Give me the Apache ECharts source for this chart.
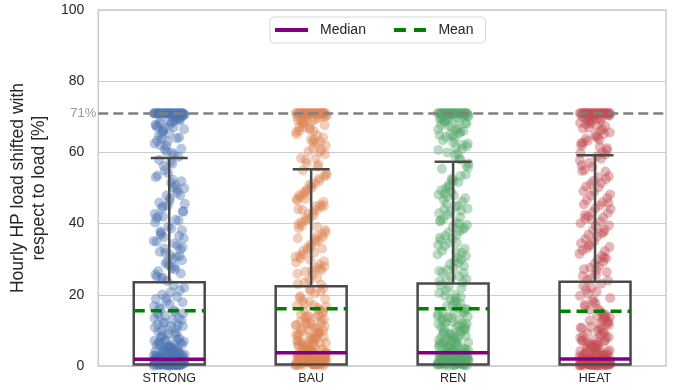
<!DOCTYPE html>
<html>
<head>
<meta charset="utf-8">
<script src="https://cdn.jsdelivr.net/npm/echarts@6/dist/echarts.min.js"></script>
<style>html,body{margin:0;padding:0;background:#fff}#chart{width:678px;height:390px}</style>
</head>
<body>
<div id="chart"></div>
<script>
const categories = ['STRONG', 'BAU', 'REN', 'HEAT'];
const colors = ['#4C72B0', '#DD8452', '#55A868', '#C44E52'];

// hourly shares, per scenario
const strongValues = [
  0.1,0.3,0.5,0.2,0.8,1.1,0.4,0.6,1.5,0.9,0.2,1.3,0.7,1.8,0.3,0.5,1.0,0.1,1.6,0.8,0.4,1.2,0.6,1.9,0.2,0.9,1.4,0.3,0.7,1.1,
  0.5,1.7,0.2,0.8,1.3,0.4,0.6,1.0,0.1,1.5,0.3,0.9,1.2,0.7,1.8,0.5,0.2,1.4,0.6,1.1,0.4,1.6,0.8,0.3,1.0,0.7,1.9,0.5,1.2,0.2,
  2.3,3.1,4.5,2.8,5.2,6.4,3.7,2.5,7.1,4.0,8.3,3.3,5.8,2.9,9.2,4.8,6.9,3.5,2.2,7.7,5.5,4.2,8.8,3.9,6.1,2.6,9.6,5.0,7.4,3.0,4.6,8.1,6.6,2.4,5.9,
  10.5,12.3,14.8,11.2,16.5,13.4,18.2,10.9,15.6,20.1,12.9,17.3,11.7,19.4,14.1,22.0,13.0,16.0,21.3,10.2,18.8,15.2,12.1,17.9,20.7,14.4,11.4,19.0,16.8,22.6,
  24.5,26.0,28.3,25.1,30.6,33.0,35.8,27.4,32.1,36.5,29.2,40.3,34.4,44.8,38.1,47.2,42.0,49.5,31.7,45.6,52.3,36.9,48.0,54.1,41.5,50.8,56.2,43.3,51.5,57.9,
  58.7,60.2,62.5,59.4,63.8,61.0,65.3,67.1,64.0,60.9,66.5,68.4,62.0,69.3,63.1,67.8,69.9,65.9,
  71,71,71,71,71,71,71,71,71,71,71,71
];
const strongMore = [
  71,71,71,71,71,71,71,71,71,71,71,71,71,71,
  70.6,70.2,69.7,68.9,70.8,67.5,69.1,66.2,70.4,68.0,64.7,69.5,61.8,70.9,67.0,65.5,70.1,68.6,63.3,69.8,66.9,70.5,59.9,68.3,64.2,
  23.9,25.7,27.9,24.8,29.7,31.2,26.6,33.8,28.8,35.1,30.1,37.4,32.7,39.2,34.9,41.1,36.2,43.5,38.6,45.9,
  40.8,47.9,42.7,50.1,44.3,51.9,46.4,53.5,48.7,55.0,49.9,56.8,37.8,30.9,45.1,53.0,27.1,41.9,33.3,57.3,
  0.3,0.7,1.2,0.5,1.9,2.6,0.9,3.4,1.4,4.3,0.2,2.1,5.1,1.0,3.8,0.6,2.9,6.2,1.6,0.4,4.9,2.3,7.5,
  1.1,3.2,0.8,5.6,1.8,8.9,0.3,2.7,4.1,11.2,1.3,6.8,0.6,3.6,13.5,2.0,9.8,0.9,5.3,14.6,1.5,7.2
];
const bauValues = [
  0.2,0.6,1.1,0.4,1.8,2.3,0.9,3.0,1.5,0.3,2.7,1.2,3.5,0.7,2.0,1.6,0.1,3.2,2.5,0.8,1.4,3.6,0.5,2.9,1.9,1.0,3.3,0.4,2.2,1.7,
  0.6,3.1,2.6,1.3,0.2,2.4,3.4,0.9,1.8,2.8,0.3,1.1,3.6,2.1,0.7,1.5,3.0,2.5,0.5,1.2,2.0,3.5,1.6,0.8,2.9,
  4.0,5.3,6.8,4.6,8.2,7.1,9.5,5.9,11.0,4.3,12.6,6.2,10.1,8.8,13.7,5.0,15.2,7.6,9.0,14.3,11.8,6.5,16.9,4.8,12.0,18.1,8.5,10.6,17.4,13.1,
  7.3,19.6,15.8,5.6,11.3,20.4,9.8,14.9,21.2,6.0,16.3,12.4,18.8,7.9,10.3,20.9,13.9,17.0,8.1,15.5,21.8,11.5,19.2,9.3,14.0,16.6,6.9,18.4,12.8,21.5,
  23.0,24.8,26.5,28.0,25.6,30.2,27.3,32.6,29.1,34.8,31.4,36.2,33.5,38.7,35.1,40.9,37.6,42.3,39.4,44.6,41.2,46.5,43.8,48.3,45.0,50.1,47.4,52.0,49.2,53.6,51.3,54.9,33.0,29.8,44.0,
  56.0,57.8,59.5,61.2,58.4,63.0,60.3,65.1,62.4,67.0,64.2,68.5,66.1,69.6,56.9,70.2,63.7,68.0,60.8,66.8,69.1,70.5,
  71,71,71,71,71,71,71,71,71,71,71,71
];
const bauMore = [
  71,71,71,71,71,71,71,71,71,71,71,71,71,71,
  70.7,70.3,69.2,68.7,70.9,66.4,69.9,64.8,70.1,67.6,62.9,69.4,60.1,70.5,65.7,58.3,68.2,70.0,63.6,67.1,56.6,69.0,61.9,66.0,70.4,
  22.8,24.1,25.9,27.6,23.5,29.4,26.8,31.0,28.5,33.2,30.7,35.6,32.3,37.0,34.2,39.8,36.5,41.6,38.2,43.1,
  40.4,45.2,42.8,47.0,44.9,48.9,46.1,50.7,48.0,52.6,49.6,54.2,31.9,43.9,27.0,51.0,35.9,39.1,46.9,53.3,
  0.4,0.9,1.5,2.2,0.6,2.9,3.6,1.2,4.4,0.3,1.9,5.3,2.6,0.8,6.1,3.3,1.4,7.0,0.5,2.4,8.2,3.9,1.0,
  9.4,4.8,1.7,10.7,0.2,3.0,12.1,5.7,1.3,13.4,2.0,6.4,14.5,0.7,3.5,11.6,7.8,2.8,9.9,4.5,1.6,8.7
];
const renValues = [
  0.3,0.8,1.4,0.5,2.1,2.9,1.0,3.4,0.2,1.7,2.5,0.6,3.1,1.2,0.9,2.3,3.6,0.4,1.9,2.7,0.1,1.5,3.2,0.7,2.0,1.1,3.5,0.5,2.6,1.8,
  0.3,3.0,1.3,2.4,0.8,3.3,1.6,0.2,2.8,1.0,3.6,0.6,2.2,1.4,3.1,0.4,1.9,2.9,0.9,3.4,1.2,2.5,0.7,1.7,3.0,
  4.2,5.6,7.0,4.9,8.6,6.3,10.0,5.2,11.8,7.5,13.3,4.5,9.1,14.6,6.7,12.2,16.0,8.0,10.8,17.5,5.9,13.8,19.0,9.6,15.3,7.2,20.5,11.4,16.8,4.7,
  18.2,12.7,21.9,8.9,14.1,6.1,19.7,10.4,17.1,22.7,13.0,7.8,15.9,20.0,9.3,12.0,18.7,5.4,16.4,21.3,11.1,14.9,8.3,19.4,22.2,6.6,17.8,10.7,15.0,13.5,
  23.8,25.2,27.0,24.4,29.5,26.3,31.8,28.6,34.0,30.4,36.6,32.9,39.0,35.3,41.8,37.5,44.2,40.1,46.7,38.4,49.0,42.9,51.6,45.5,53.8,47.9,55.4,43.6,50.3,56.9,34.7,48.5,28.1,52.7,40.6,
  58.2,60.0,61.7,59.1,63.4,62.1,65.0,60.7,66.6,64.3,68.2,62.8,69.5,65.8,67.4,70.1,61.3,69.0,66.0,70.6,64.9,68.8,
  71,71,71,71,71,71,71,71,71,71,71,71
];
const renMore = [
  71,71,71,71,71,71,71,71,71,71,71,71,71,71,
  70.8,70.4,69.6,68.5,70.2,67.2,69.3,65.4,70.7,68.1,63.8,69.9,61.0,70.0,66.5,59.6,68.9,70.5,64.6,67.7,58.0,69.4,62.5,66.3,70.3,
  23.5,25.0,26.7,28.9,24.2,30.8,27.5,32.4,29.9,34.6,31.3,36.9,33.7,38.8,35.8,40.9,37.9,42.5,39.6,44.8,
  41.4,46.2,43.3,48.1,45.0,50.0,47.1,51.9,49.4,53.4,50.8,55.8,32.0,44.1,26.1,52.2,36.0,40.0,47.6,56.3,
  0.2,0.8,1.6,2.4,0.5,3.1,3.7,1.1,4.6,0.4,2.0,5.5,2.8,0.9,6.4,3.4,1.5,7.3,0.6,2.6,8.5,4.1,1.2,
  9.7,5.0,1.8,10.9,0.3,3.2,12.4,5.9,1.4,13.6,2.2,6.7,14.8,0.7,3.8,11.9,8.0,2.9,10.2,4.7,1.7,9.0
];
const heatValues = [
  0.1,0.4,0.9,0.2,1.3,0.6,1.7,0.3,1.1,0.8,1.9,0.5,1.4,0.2,1.0,0.7,1.6,0.4,1.2,0.1,1.8,0.6,0.9,1.5,0.3,1.1,0.7,1.9,0.5,1.3,
  0.2,0.8,1.6,0.4,1.0,1.4,0.6,1.8,0.3,1.2,0.9,1.7,0.5,0.1,1.5,0.8,1.1,0.3,1.9,0.6,1.3,0.4,1.0,1.6,0.2,0.7,1.4,0.9,1.8,0.5,
  2.2,3.0,4.1,2.7,5.5,3.6,6.8,2.4,7.9,4.7,9.1,3.3,5.9,8.4,2.9,6.2,4.4,9.8,3.8,7.2,5.1,2.5,8.8,6.6,4.0,7.6,3.1,9.4,5.7,2.8,6.9,4.9,8.1,3.5,7.0,
  10.3,12.8,11.5,14.2,16.7,13.1,18.5,10.8,15.4,20.3,12.2,17.6,22.4,14.7,11.0,19.1,16.0,21.5,13.6,18.0,10.6,23.1,15.8,12.5,20.8,17.2,14.0,22.0,19.7,11.9,
  24.2,26.4,28.7,25.3,31.0,27.6,33.4,29.9,35.7,32.2,38.1,34.5,40.6,36.9,43.0,39.3,45.4,41.7,47.8,44.1,50.2,46.6,52.5,48.9,54.8,51.4,57.1,53.3,58.9,42.4,30.5,55.9,
  59.8,61.5,63.2,60.6,64.9,62.7,66.4,68.1,65.6,69.4,63.9,67.3,70.0,61.9,68.9,66.9,70.4,64.4,
  71,71,71,71,71,71,71,71,71,71,71,71,71,71
];
const heatMore = [
  71,71,71,71,71,71,71,71,71,71,71,71,71,71,
  70.6,70.1,69.5,68.6,70.8,67.4,69.7,65.2,70.3,68.3,63.5,69.1,61.2,70.9,66.7,60.0,68.8,70.4,64.1,67.9,59.4,69.3,62.6,66.2,70.0,
  24.0,25.6,27.2,29.3,24.7,31.5,28.1,33.0,30.2,35.0,32.5,37.2,34.1,39.5,36.4,41.4,38.3,43.2,40.1,45.1,
  42.0,47.2,44.3,49.1,46.0,51.1,48.2,53.0,50.4,54.6,52.0,56.4,58.2,33.7,45.8,26.9,55.1,37.6,41.0,57.7,
  0.2,0.6,1.1,0.4,1.5,0.8,1.9,0.3,2.4,1.0,3.1,0.5,1.3,3.8,0.7,1.7,4.6,0.1,2.1,5.4,0.9,1.2,6.3,
  0.4,2.7,7.2,1.6,0.6,8.1,3.4,1.0,9.3,0.3,4.2,10.4,1.4,11.8,5.1,0.8,12.9,2.2,13.7,6.0,1.8,14.4
];
const allValues = [
  strongValues.concat(strongMore),
  bauValues.concat(bauMore),
  renValues.concat(renMore),
  heatValues.concat(heatMore)
];

// box statistics
const q1 = [0.4, 0.4, 0.4, 0.4];
const medians = [1.9, 3.7, 3.7, 2.0];
const q3 = [23.5, 22.4, 23.2, 23.7];
const whiskerTop = [58.4, 55.3, 57.4, 59.2];
const means = [15.5, 16.1, 16.1, 15.4];
const capLevel = 71;

const font = 'Liberation Sans, Arial, sans-serif';
const boxHalf = 0.25;
const capHalf = 0.13;

// strip jitter, deterministic
const jitter = k => (((k * 0.6180339887) % 1) - 0.5) * 0.22;

const scatterSeries = allValues.map((vals, i) => ({
    type: 'scatter',
    xAxisIndex: 1,
    z: 2,
    symbolSize: 10,
    itemStyle: { color: colors[i], opacity: 0.4 },
    silent: true,
    data: vals.map((v, k) => [i + jitter(k), v])
}));

function hLine(name, values, color, dash) {
    return {
        name: name,
        type: 'custom',
        xAxisIndex: 1,
        z: 4,
        itemStyle: { color: color },
        data: values.map((v, i) => [i, v]),
        renderItem: (params, api) => {
            const i = api.value(0);
            const a = api.coord([i - boxHalf, api.value(1)]);
            const b = api.coord([i + boxHalf, api.value(1)]);
            return {
                type: 'line',
                shape: { x1: a[0], y1: a[1], x2: b[0], y2: b[1] },
                style: { stroke: color, lineWidth: 3.5, lineDash: dash }
            };
        }
    };
}

const chart = echarts.init(document.getElementById('chart'));
chart.setOption({
    animation: false,
    grid: { left: 92, right: 12, top: 10, bottom: 24, show: true, borderColor: '#cccccc', borderWidth: 1.5 },
    legend: {
        left: 270,
        top: 17,
        data: [
            { name: 'Median', icon: 'path://M0,0h33v4h-33z' },
            { name: 'Mean', icon: 'path://M0,0h12v4h-12z M20,0h12v4h-12z' }
        ],
        itemWidth: 33,
        itemHeight: 4,
        itemGap: 28,
        padding: [6, 12, 6, 5],
        borderColor: '#d6d6d6',
        borderWidth: 1,
        borderRadius: 4,
        backgroundColor: '#fff',
        textStyle: { fontSize: 14, color: '#262626', fontFamily: font, padding: [0, 0, 0, 7] }
    },
    xAxis: [
        {
            type: 'category',
            data: categories,
            boundaryGap: true,
            axisLine: { show: false },
            axisTick: { show: false },
            axisLabel: { fontSize: 12.5, color: '#262626', fontFamily: font, margin: 6 }
        },
        { type: 'value', min: -0.5, max: 3.5, show: false }
    ],
    yAxis: {
        type: 'value',
        min: 0,
        max: 100,
        interval: 20,
        name: 'Hourly HP load shifted with\nrespect to load [%]',
        nameLocation: 'middle',
        nameGap: 42,
        nameTextStyle: { fontSize: 17.5, color: '#262626', fontFamily: font, lineHeight: 21 },
        axisLine: { show: false },
        axisTick: { show: false },
        axisLabel: { fontSize: 14, color: '#262626', fontFamily: font, margin: 14 },
        splitLine: { lineStyle: { color: '#cccccc', width: 1.2 } }
    },
    series: [
        {
            type: 'line',
            xAxisIndex: 1,
            z: 1,
            data: [],
            markLine: {
                silent: true,
                symbol: 'none',
                lineStyle: { color: '#808080', type: [10, 5], width: 2.5 },
                label: { position: 'start', formatter: capLevel + '%', color: '#999999', fontSize: 13, fontFamily: font, distance: 2 },
                data: [{ yAxis: capLevel }]
            }
        },
        ...scatterSeries,
        {
            type: 'custom',
            xAxisIndex: 1,
            z: 3,
            silent: true,
            data: categories.map((c, i) => [i, q1[i], q3[i], whiskerTop[i]]),
            renderItem: (params, api) => {
                const i = api.value(0);
                const lt = api.coord([i - boxHalf, api.value(2)]);
                const rb = api.coord([i + boxHalf, api.value(1)]);
                const top = api.coord([i, api.value(3)]);
                const cl = api.coord([i - capHalf, api.value(3)]);
                const cr = api.coord([i + capHalf, api.value(3)]);
                const st = { stroke: '#4a4a4a', lineWidth: 2.5, fill: null };
                return {
                    type: 'group',
                    children: [
                        { type: 'rect', shape: { x: lt[0], y: lt[1], width: rb[0] - lt[0], height: rb[1] - lt[1] }, style: st },
                        { type: 'line', shape: { x1: top[0], y1: lt[1], x2: top[0], y2: top[1] }, style: st },
                        { type: 'line', shape: { x1: cl[0], y1: cl[1], x2: cr[0], y2: cr[1] }, style: st }
                    ]
                };
            }
        },
        hLine('Median', medians, '#800080', null),
        hLine('Mean', means, '#008000', [11, 6])
    ]
});
</script>
</body>
</html>
